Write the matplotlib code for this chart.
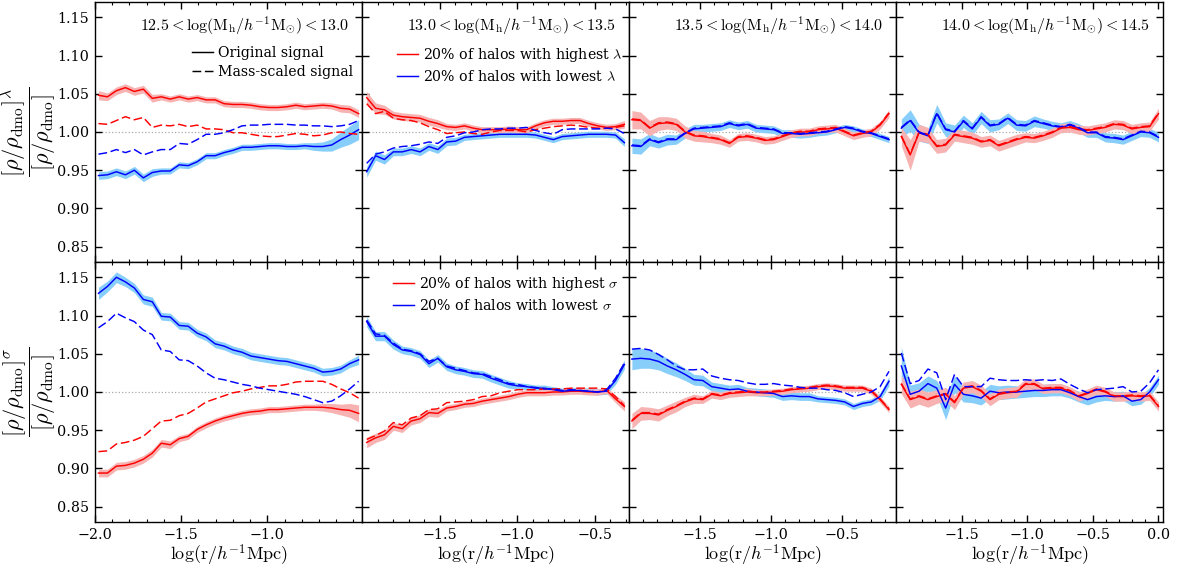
import numpy as np
import matplotlib.pyplot as plt
from matplotlib.lines import Line2D
from matplotlib.ticker import MultipleLocator

plt.rcParams['font.family'] = 'serif'
plt.rcParams['font.serif'] = ['DejaVu Serif']
plt.rcParams['mathtext.fontset'] = 'cm'

# log-spaced radial bins for each halo mass bin
r1 = np.linspace(-1.98, -0.47, 30)
r2 = np.linspace(-1.97, -0.31, 30)
r3 = np.linspace(-1.98, -0.17, 30)
r4 = np.linspace(-1.96, 0.00, 30)
radii = [r1, r2, r3, r4]
xmax = [-0.45, -0.28, -0.12, 0.035]

mass_bins = [r'$12.5<\log({\rm M_h}/h^{-1}{\rm M}_{\odot})<13.0$',
             r'$13.0<\log({\rm M_h}/h^{-1}{\rm M}_{\odot})<13.5$',
             r'$13.5<\log({\rm M_h}/h^{-1}{\rm M}_{\odot})<14.0$',
             r'$14.0<\log({\rm M_h}/h^{-1}{\rm M}_{\odot})<14.5$']

# ---- spin (lambda) split ----
lam_hi_1 = [1.048, 1.046, 1.054, 1.058, 1.053, 1.056, 1.044, 1.046, 1.043, 1.046, 1.043, 1.045, 1.042, 1.042, 1.037,
            1.036, 1.036, 1.035, 1.033, 1.032, 1.032, 1.033, 1.035, 1.033, 1.034, 1.035, 1.034, 1.031, 1.030, 1.024]
lam_hi_ms_1 = [1.011, 1.010, 1.015, 1.020, 1.016, 1.019, 1.006, 1.009, 1.008, 1.010, 1.007, 1.009, 1.004, 1.004, 1.003,
               0.999, 0.999, 0.997, 0.995, 0.994, 0.994, 0.996, 0.998, 0.997, 0.995, 0.996, 0.999, 1.000, 0.998, 0.997]
lam_lo_1 = [0.943, 0.944, 0.948, 0.944, 0.950, 0.940, 0.947, 0.949, 0.949, 0.957, 0.956, 0.961, 0.969, 0.969, 0.973,
            0.976, 0.980, 0.980, 0.981, 0.982, 0.982, 0.981, 0.981, 0.982, 0.981, 0.981, 0.983, 0.990, 0.996, 1.003]
lam_lo_ms_1 = [0.971, 0.973, 0.977, 0.973, 0.977, 0.970, 0.974, 0.977, 0.977, 0.985, 0.984, 0.990, 0.997, 0.997, 0.999,
               1.003, 1.008, 1.009, 1.009, 1.010, 1.010, 1.010, 1.009, 1.009, 1.008, 1.008, 1.007, 1.008, 1.010, 1.015]

lam_hi_2 = [1.045, 1.031, 1.029, 1.022, 1.020, 1.019, 1.018, 1.014, 1.011, 1.007, 1.006, 1.008, 1.005, 1.003, 1.003,
            1.003, 1.004, 1.003, 1.003, 1.008, 1.012, 1.014, 1.014, 1.015, 1.015, 1.011, 1.008, 1.006, 1.007, 1.010]
lam_hi_ms_2 = [1.037, 1.024, 1.027, 1.018, 1.016, 1.015, 1.012, 1.007, 1.003, 0.998, 0.999, 1.000, 0.998, 0.997, 1.000,
               1.002, 1.002, 1.002, 1.000, 1.003, 1.005, 1.007, 1.008, 1.009, 1.008, 1.006, 1.005, 1.005, 1.006, 1.008]
lam_lo_2 = [0.948, 0.969, 0.964, 0.974, 0.974, 0.977, 0.974, 0.981, 0.977, 0.987, 0.988, 0.993, 0.994, 0.995, 0.996,
            0.997, 0.997, 0.997, 0.997, 0.996, 0.993, 0.990, 0.994, 0.995, 0.996, 0.997, 0.997, 0.997, 0.996, 0.986]
lam_lo_ms_2 = [0.959, 0.971, 0.974, 0.979, 0.981, 0.982, 0.984, 0.987, 0.985, 0.993, 0.995, 0.999, 1.000, 1.003, 1.004,
               1.004, 1.005, 1.005, 1.006, 1.002, 0.999, 0.997, 1.003, 1.004, 1.004, 1.004, 1.004, 1.005, 1.004, 0.998]

lam_hi_3 = [1.016, 1.015, 1.005, 1.011, 1.012, 1.010, 1.000, 0.995, 0.994, 0.992, 0.990, 0.985, 0.993, 0.994, 0.992,
            0.989, 0.990, 0.994, 0.998, 1.000, 1.000, 1.003, 1.004, 1.005, 1.000, 0.995, 0.998, 1.000, 1.009, 1.024]
lam_hi_ms_3 = [1.017, 1.016, 1.006, 1.012, 1.013, 1.011, 1.001, 0.996, 0.995, 0.993, 0.991, 0.986, 0.994, 0.995, 0.993,
               0.990, 0.991, 0.995, 0.999, 1.001, 1.001, 1.004, 1.005, 1.006, 1.001, 0.996, 0.999, 1.001, 1.010, 1.025]
lam_lo_3 = [0.982, 0.981, 0.990, 0.986, 0.990, 0.990, 0.998, 1.004, 1.005, 1.006, 1.007, 1.011, 1.008, 1.010, 1.005,
            1.004, 1.003, 0.998, 0.998, 0.997, 0.998, 0.999, 1.000, 1.003, 1.006, 1.004, 1.000, 0.998, 0.994, 0.990]
lam_lo_ms_3 = [0.983, 0.982, 0.991, 0.987, 0.991, 0.991, 0.999, 1.005, 1.006, 1.007, 1.008, 1.012, 1.009, 1.011, 1.006,
               1.005, 1.004, 0.999, 0.999, 0.998, 0.999, 1.000, 1.001, 1.004, 1.007, 1.005, 1.001, 0.999, 0.995, 0.991]

lam_hi_4 = [0.994, 0.970, 0.999, 0.996, 0.981, 0.983, 0.996, 0.994, 0.992, 0.987, 0.989, 0.982, 0.986, 0.990, 0.993,
            0.992, 0.995, 0.999, 1.005, 1.006, 1.003, 1.002, 1.004, 1.006, 1.010, 1.009, 1.004, 1.006, 1.007, 1.024]
lam_hi_ms_4 = [0.995, 0.971, 1.000, 0.997, 0.982, 0.984, 0.997, 0.995, 0.993, 0.988, 0.990, 0.983, 0.987, 0.991, 0.994,
               0.993, 0.996, 1.000, 1.006, 1.007, 1.004, 1.003, 1.005, 1.007, 1.011, 1.010, 1.005, 1.007, 1.008, 1.025]
lam_lo_4 = [1.005, 1.015, 0.999, 0.995, 1.024, 1.003, 1.000, 1.014, 1.004, 1.019, 1.008, 1.010, 1.018, 1.009, 1.008,
            1.014, 1.011, 1.008, 1.006, 1.009, 1.005, 0.999, 0.999, 0.993, 0.992, 0.990, 0.995, 1.000, 0.999, 0.993]
lam_lo_ms_4 = [1.006, 1.016, 1.000, 0.996, 1.025, 1.004, 1.001, 1.015, 1.005, 1.020, 1.009, 1.011, 1.019, 1.010, 1.009,
               1.015, 1.012, 1.009, 1.007, 1.010, 1.006, 1.000, 1.000, 0.994, 0.993, 0.991, 0.996, 1.001, 1.000, 0.994]

# 1-sigma scatter of the original signal
lam_hi_err_1 = [0.006, 0.005, 0.005, 0.005, 0.005, 0.005, 0.005, 0.004, 0.004, 0.004, 0.004, 0.004, 0.004, 0.004, 0.004,
                0.004, 0.004, 0.004, 0.004, 0.004, 0.004, 0.004, 0.004, 0.004, 0.004, 0.004, 0.004, 0.005, 0.005, 0.005]
lam_lo_err_1 = [0.005, 0.005, 0.005, 0.005, 0.005, 0.005, 0.005, 0.004, 0.004, 0.004, 0.004, 0.004, 0.004, 0.004, 0.004,
                0.004, 0.004, 0.004, 0.004, 0.004, 0.004, 0.004, 0.004, 0.004, 0.005, 0.006, 0.008, 0.010, 0.012, 0.013]
lam_hi_err_2 = [0.008, 0.007, 0.006, 0.005, 0.005, 0.005, 0.005, 0.005, 0.005, 0.004, 0.004, 0.004, 0.004, 0.004, 0.004,
                0.004, 0.004, 0.004, 0.004, 0.004, 0.004, 0.004, 0.004, 0.004, 0.004, 0.004, 0.004, 0.004, 0.004, 0.005]
lam_lo_err_2 = [0.007, 0.006, 0.006, 0.005, 0.005, 0.005, 0.005, 0.005, 0.005, 0.005, 0.005, 0.004, 0.004, 0.004, 0.004,
                0.004, 0.004, 0.004, 0.004, 0.004, 0.004, 0.004, 0.004, 0.004, 0.004, 0.004, 0.004, 0.004, 0.004, 0.005]
lam_hi_err_3 = [0.012, 0.011, 0.010, 0.009, 0.008, 0.008, 0.008, 0.007, 0.007, 0.006, 0.006, 0.005, 0.005, 0.005, 0.005,
                0.005, 0.005, 0.005, 0.005, 0.005, 0.005, 0.005, 0.005, 0.005, 0.005, 0.005, 0.005, 0.005, 0.005, 0.005]
lam_lo_err_3 = [0.010, 0.010, 0.008, 0.007, 0.007, 0.006, 0.006, 0.006, 0.005, 0.005, 0.005, 0.005, 0.005, 0.005, 0.005,
                0.005, 0.005, 0.005, 0.005, 0.005, 0.005, 0.004, 0.004, 0.004, 0.004, 0.004, 0.004, 0.004, 0.004, 0.004]
lam_hi_err_4 = [0.012, 0.020, 0.011, 0.010, 0.009, 0.009, 0.008, 0.008, 0.008, 0.007, 0.007, 0.007, 0.007, 0.007, 0.006,
                0.006, 0.006, 0.006, 0.006, 0.006, 0.006, 0.006, 0.006, 0.006, 0.006, 0.006, 0.006, 0.006, 0.006, 0.007]
lam_lo_err_4 = [0.012, 0.014, 0.011, 0.010, 0.012, 0.009, 0.009, 0.008, 0.008, 0.008, 0.008, 0.007, 0.007, 0.007, 0.007,
                0.007, 0.006, 0.006, 0.006, 0.006, 0.006, 0.006, 0.006, 0.006, 0.006, 0.006, 0.006, 0.006, 0.006, 0.006]

# ---- sigma split ----
sig_hi_1 = [0.894, 0.894, 0.903, 0.904, 0.907, 0.912, 0.920, 0.933, 0.931, 0.939, 0.942, 0.951, 0.957, 0.962, 0.966,
            0.969, 0.972, 0.974, 0.975, 0.977, 0.977, 0.978, 0.979, 0.980, 0.980, 0.980, 0.979, 0.977, 0.976, 0.972]
sig_hi_ms_1 = [0.922, 0.923, 0.932, 0.934, 0.937, 0.942, 0.952, 0.962, 0.963, 0.969, 0.972, 0.979, 0.987, 0.991, 0.995,
               0.999, 1.001, 1.004, 1.006, 1.008, 1.008, 1.010, 1.013, 1.014, 1.014, 1.014, 1.010, 1.004, 0.999, 0.992]
sig_lo_1 = [1.129, 1.138, 1.150, 1.144, 1.136, 1.121, 1.118, 1.099, 1.098, 1.087, 1.086, 1.077, 1.072, 1.063, 1.060,
            1.055, 1.052, 1.047, 1.045, 1.043, 1.041, 1.040, 1.037, 1.034, 1.031, 1.026, 1.027, 1.030, 1.037, 1.042]
sig_lo_ms_1 = [1.084, 1.092, 1.103, 1.097, 1.092, 1.081, 1.075, 1.055, 1.053, 1.042, 1.041, 1.034, 1.025, 1.018, 1.016,
               1.013, 1.010, 1.008, 1.005, 1.003, 1.001, 0.999, 0.997, 0.994, 0.990, 0.986, 0.988, 0.995, 1.004, 1.014]

sig_hi_2 = [0.934, 0.940, 0.944, 0.955, 0.952, 0.962, 0.965, 0.973, 0.972, 0.979, 0.981, 0.984, 0.985, 0.988, 0.990,
            0.992, 0.994, 0.997, 0.999, 0.999, 0.999, 1.000, 1.000, 1.001, 1.001, 1.000, 1.000, 1.002, 0.991, 0.981]
sig_hi_ms_2 = [0.938, 0.943, 0.949, 0.960, 0.957, 0.966, 0.969, 0.977, 0.978, 0.986, 0.987, 0.988, 0.990, 0.994, 0.995,
               0.999, 1.001, 1.003, 1.003, 1.003, 1.004, 1.004, 1.004, 1.005, 1.005, 1.005, 1.005, 1.004, 0.994, 0.982]
sig_lo_2 = [1.092, 1.073, 1.073, 1.062, 1.055, 1.053, 1.049, 1.037, 1.044, 1.033, 1.029, 1.027, 1.024, 1.023, 1.018,
            1.014, 1.010, 1.008, 1.007, 1.005, 1.005, 1.003, 1.001, 1.002, 1.002, 1.001, 1.000, 1.001, 1.015, 1.036]
sig_lo_ms_2 = [1.094, 1.076, 1.074, 1.064, 1.056, 1.054, 1.050, 1.040, 1.044, 1.034, 1.031, 1.028, 1.025, 1.024, 1.020,
               1.016, 1.011, 1.010, 1.007, 1.006, 1.004, 1.004, 1.002, 1.003, 1.002, 1.001, 1.000, 1.003, 1.018, 1.038]

sig_hi_3 = [0.962, 0.972, 0.972, 0.970, 0.976, 0.981, 0.987, 0.991, 0.990, 0.997, 0.995, 0.998, 0.999, 1.000, 0.999,
            0.999, 1.000, 1.001, 1.003, 1.004, 1.005, 1.007, 1.008, 1.007, 1.005, 1.005, 1.005, 1.001, 0.990, 0.977]
sig_hi_ms_3 = [0.963, 0.973, 0.973, 0.971, 0.977, 0.982, 0.988, 0.992, 0.991, 0.998, 0.996, 0.999, 1.000, 1.001, 1.000,
               1.000, 1.001, 1.002, 1.004, 1.005, 1.006, 1.008, 1.009, 1.008, 1.006, 1.006, 1.006, 1.002, 0.991, 0.978]
sig_lo_3 = [1.043, 1.044, 1.043, 1.040, 1.034, 1.029, 1.023, 1.016, 1.015, 1.007, 1.005, 1.003, 1.004, 1.001, 1.000,
            0.999, 0.998, 0.994, 0.995, 0.994, 0.994, 0.991, 0.990, 0.989, 0.987, 0.981, 0.985, 0.987, 0.994, 1.014]
sig_lo_ms_3 = [1.056, 1.057, 1.055, 1.049, 1.042, 1.034, 1.029, 1.029, 1.030, 1.021, 1.018, 1.016, 1.015, 1.012, 1.010,
               1.010, 1.011, 1.009, 1.008, 1.006, 1.005, 1.005, 1.003, 1.002, 0.999, 0.994, 0.997, 1.000, 1.007, 1.027]

sig_hi_4 = [1.010, 0.990, 0.994, 0.990, 0.994, 0.997, 0.986, 1.005, 1.007, 1.001, 0.990, 0.997, 0.999, 1.000, 1.010,
            1.010, 1.004, 1.005, 1.005, 1.001, 0.994, 0.998, 1.003, 1.000, 0.994, 0.994, 0.995, 0.994, 0.995, 0.981]
sig_hi_ms_4 = [1.011, 0.991, 0.995, 0.991, 0.995, 0.998, 0.987, 1.006, 1.008, 1.002, 0.991, 0.998, 1.000, 1.001, 1.011,
               1.011, 1.005, 1.006, 1.006, 1.002, 0.995, 0.999, 1.004, 1.001, 0.995, 0.995, 0.996, 0.995, 0.996, 0.982]
sig_lo_4 = [1.034, 0.997, 1.001, 1.011, 1.005, 0.979, 1.010, 0.997, 0.995, 0.992, 1.001, 0.999, 1.000, 1.000, 1.001,
            1.002, 1.002, 1.003, 1.003, 0.999, 0.994, 0.990, 0.994, 0.995, 0.994, 0.995, 0.988, 0.990, 1.000, 1.016]
sig_lo_ms_4 = [1.051, 1.011, 1.015, 1.030, 1.025, 0.990, 1.023, 1.007, 1.007, 1.007, 1.018, 1.016, 1.015, 1.015, 1.016,
               1.015, 1.016, 1.015, 1.017, 1.010, 1.004, 0.999, 1.003, 1.004, 1.005, 1.007, 1.000, 1.001, 1.012, 1.029]

sig_hi_err_1 = [0.005, 0.005, 0.005, 0.005, 0.005, 0.005, 0.005, 0.005, 0.005, 0.004, 0.004, 0.004, 0.004, 0.004, 0.004,
                0.004, 0.004, 0.004, 0.004, 0.004, 0.004, 0.004, 0.004, 0.004, 0.004, 0.005, 0.006, 0.007, 0.009, 0.011]
sig_lo_err_1 = [0.008, 0.007, 0.007, 0.006, 0.006, 0.006, 0.006, 0.005, 0.005, 0.005, 0.005, 0.005, 0.005, 0.005, 0.005,
                0.005, 0.005, 0.005, 0.005, 0.005, 0.005, 0.005, 0.005, 0.005, 0.005, 0.005, 0.005, 0.005, 0.005, 0.006]
sig_hi_err_2 = [0.007, 0.006, 0.006, 0.005, 0.005, 0.005, 0.005, 0.005, 0.005, 0.004, 0.004, 0.004, 0.004, 0.004, 0.004,
                0.004, 0.004, 0.004, 0.004, 0.004, 0.004, 0.004, 0.004, 0.004, 0.004, 0.004, 0.004, 0.004, 0.005, 0.006]
sig_lo_err_2 = [0.007, 0.006, 0.006, 0.006, 0.005, 0.005, 0.005, 0.005, 0.005, 0.005, 0.005, 0.005, 0.005, 0.005, 0.005,
                0.005, 0.005, 0.004, 0.004, 0.004, 0.004, 0.004, 0.004, 0.004, 0.004, 0.004, 0.004, 0.004, 0.005, 0.006]
sig_hi_err_3 = [0.010, 0.009, 0.008, 0.008, 0.007, 0.007, 0.006, 0.006, 0.005, 0.005, 0.005, 0.005, 0.005, 0.005, 0.004,
                0.004, 0.004, 0.004, 0.004, 0.004, 0.004, 0.004, 0.004, 0.004, 0.004, 0.004, 0.004, 0.004, 0.004, 0.004]
sig_lo_err_3 = [0.014, 0.013, 0.012, 0.011, 0.010, 0.009, 0.008, 0.007, 0.007, 0.006, 0.006, 0.006, 0.006, 0.005, 0.005,
                0.005, 0.005, 0.005, 0.005, 0.005, 0.005, 0.004, 0.004, 0.004, 0.004, 0.004, 0.004, 0.004, 0.005, 0.006]
sig_hi_err_4 = [0.012, 0.011, 0.010, 0.010, 0.009, 0.009, 0.009, 0.008, 0.008, 0.008, 0.008, 0.007, 0.007, 0.007, 0.007,
                0.007, 0.006, 0.006, 0.006, 0.006, 0.006, 0.006, 0.006, 0.006, 0.006, 0.006, 0.006, 0.006, 0.006, 0.006]
sig_lo_err_4 = [0.025, 0.012, 0.011, 0.010, 0.010, 0.015, 0.011, 0.010, 0.009, 0.009, 0.009, 0.009, 0.009, 0.008, 0.008,
                0.008, 0.008, 0.008, 0.008, 0.007, 0.007, 0.007, 0.007, 0.006, 0.006, 0.006, 0.006, 0.006, 0.006, 0.006]

rows = [
    dict(hi=[lam_hi_1, lam_hi_2, lam_hi_3, lam_hi_4],
         hi_ms=[lam_hi_ms_1, lam_hi_ms_2, lam_hi_ms_3, lam_hi_ms_4],
         hi_err=[lam_hi_err_1, lam_hi_err_2, lam_hi_err_3, lam_hi_err_4],
         lo=[lam_lo_1, lam_lo_2, lam_lo_3, lam_lo_4],
         lo_ms=[lam_lo_ms_1, lam_lo_ms_2, lam_lo_ms_3, lam_lo_ms_4],
         lo_err=[lam_lo_err_1, lam_lo_err_2, lam_lo_err_3, lam_lo_err_4],
         sym=r'\lambda'),
    dict(hi=[sig_hi_1, sig_hi_2, sig_hi_3, sig_hi_4],
         hi_ms=[sig_hi_ms_1, sig_hi_ms_2, sig_hi_ms_3, sig_hi_ms_4],
         hi_err=[sig_hi_err_1, sig_hi_err_2, sig_hi_err_3, sig_hi_err_4],
         lo=[sig_lo_1, sig_lo_2, sig_lo_3, sig_lo_4],
         lo_ms=[sig_lo_ms_1, sig_lo_ms_2, sig_lo_ms_3, sig_lo_ms_4],
         lo_err=[sig_lo_err_1, sig_lo_err_2, sig_lo_err_3, sig_lo_err_4],
         sym=r'\sigma'),
]

red, blue = '#ff0000', '#0000ff'
red_band, blue_band = '#f7b2b2', '#87cefa'
dash = (0, (6, 2.5))
lw = 1.05

fig, axes = plt.subplots(2, 4, figsize=(11.82, 5.67), dpi=100, sharey=True)
fig.subplots_adjust(left=0.0804, right=0.984, top=0.9965, bottom=0.0794, wspace=0, hspace=0)

for i, row in enumerate(rows):
    for j in range(4):
        ax = axes[i, j]
        x = radii[j]
        hi, lo = np.array(row['hi'][j]), np.array(row['lo'][j])
        hi_e, lo_e = np.array(row['hi_err'][j]), np.array(row['lo_err'][j])

        ax.axhline(1.0, color='#aaaaaa', ls=':', lw=0.9, zorder=1)
        ax.fill_between(x, lo - lo_e, lo + lo_e, color=blue_band, lw=0, zorder=2)
        ax.fill_between(x, hi - hi_e, hi + hi_e, color=red_band, lw=0, zorder=2)
        ax.plot(x, hi, color=red, lw=lw, zorder=4)
        ax.plot(x, lo, color=blue, lw=lw, zorder=4)
        ax.plot(x, row['hi_ms'][j], color=red, lw=lw, ls=dash, zorder=5)
        ax.plot(x, row['lo_ms'][j], color=blue, lw=lw, ls=dash, zorder=5)

        ax.set_xlim(-2.0, xmax[j])
        ax.set_ylim(0.83, 1.17)
        ax.yaxis.set_major_locator(MultipleLocator(0.05))
        ax.xaxis.set_minor_locator(MultipleLocator(0.1))
        if j == 0:
            ax.set_xticks([-2.0, -1.5, -1.0])
        else:
            ax.set_xticks([t for t in [-1.5, -1.0, -0.5, 0.0] if t <= xmax[j]])
        ax.tick_params(which='both', direction='in', top=True, right=True, labelsize=10.3)
        ax.tick_params(which='major', length=5, width=1, pad=4)
        ax.tick_params(which='minor', length=2.5, width=0.8)
        for s in ax.spines.values():
            s.set_linewidth(1.0)
        if i == 0:
            ax.tick_params(labelbottom=False)
            ax.text(0.95, 0.91, mass_bins[j], transform=ax.transAxes,
                    ha='right', va='center', fontsize=11.5)
        else:
            ax.set_xlabel(r'$\log({\rm r}/h^{-1}{\rm Mpc})$', fontsize=13, labelpad=1)

    sym = row['sym']
    axes[i, 0].set_ylabel(r'$\dfrac{[\rho/\rho_{\rm dmo}]^{' + sym + r'}}{[\rho/\rho_{\rm dmo}]}$',
                          fontsize=16)
    axes[i, 0].yaxis.set_label_coords(-0.14, 0.5)

# legends
style_handles = [Line2D([], [], color='k', lw=lw),
                 Line2D([], [], color='k', lw=lw, ls=dash)]
axes[0, 0].legend(style_handles, ['Original signal', 'Mass-scaled signal'],
                  loc='upper left', bbox_to_anchor=(0.363, 0.83), frameon=False,
                  fontsize=10.2, handlelength=1.5, handletextpad=0.35,
                  labelspacing=0.35, borderpad=0, borderaxespad=0)

for i, sym in [(0, r'\lambda'), (1, r'\sigma')]:
    handles = [Line2D([], [], color=red, lw=lw), Line2D([], [], color=blue, lw=lw)]
    labels = ['20% of halos with highest $' + sym + '$', '20% of halos with lowest $' + sym + '$']
    anchor = (0.131, 0.83) if i == 0 else (0.116, 0.95)
    axes[i, 1].legend(handles, labels, loc='upper left', bbox_to_anchor=anchor,
                      frameon=False, fontsize=10.2, handlelength=1.5, handletextpad=0.35,
                      labelspacing=0.35, borderpad=0, borderaxespad=0)

fig.savefig('out.png', dpi=100)
